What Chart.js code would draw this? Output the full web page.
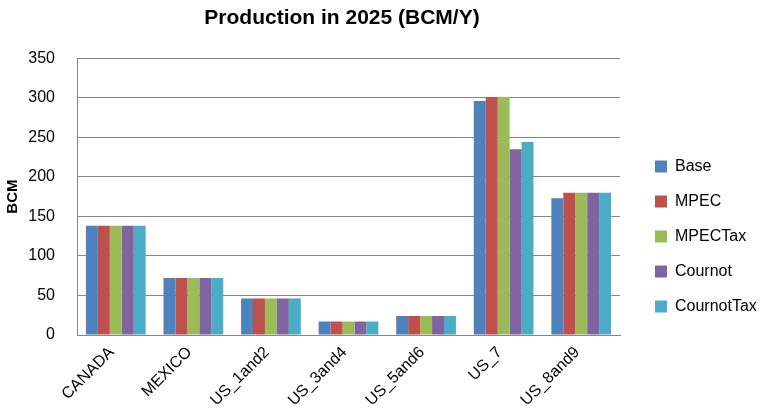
<!DOCTYPE html>
<html>
<head>
<meta charset="utf-8">
<script src="https://cdn.jsdelivr.net/npm/chart.js@4"></script>
<style>
  html, body { margin: 0; padding: 0; background: #fff; }
  #wrap { width: 762px; height: 419px; }
</style>
</head>
<body>
<div id="wrap"><canvas id="chart1" width="762" height="419"></canvas></div>
<script>
// Categories and series
const regions = ['CANADA', 'MEXICO', 'US_1and2', 'US_3and4', 'US_5and6', 'US_7', 'US_8and9'];
const base       = [138, 72, 46, 17, 24, 296, 173];
const mpec       = [138, 72, 46, 17, 24, 301, 180];
const mpecTax    = [138, 72, 46, 17, 24, 301, 180];
const cournot    = [138, 72, 46, 17, 24, 235, 180];
const cournotTax = [138, 72, 46, 17, 24, 244, 180];

const font = "'Liberation Sans', Arial, sans-serif";

// keep the legend column a fixed width and nudge title / legend like the original
const layoutTweaks = {
    id: 'layoutTweaks',
    beforeUpdate(chart) {
        const legend = chart.legend;
        if (legend && !legend._fixedFit) {
            const origFit = legend.fit;
            legend.fit = function() {
                origFit.call(this);
                this.width = 142;
            };
            legend._fixedFit = true;
        }
    },
    afterLayout(chart) {
        if (chart.titleBlock) {
            chart.titleBlock.right = chart.titleBlock.left + 684;
        }
        if (chart.legend) {
            chart.legend.left += 16;
            chart.legend.top += 27;
            chart.legend.bottom += 27;
        }
    }
};

const ctx1 = document.getElementById('chart1').getContext('2d');
const chart1 = new Chart(ctx1, {
    type: 'bar',
    data: {
        labels: regions,
        datasets: [
            { label: 'Base', data: base, backgroundColor: '#4f81bd' },
            { label: 'MPEC', data: mpec, backgroundColor: '#c0504d' },
            { label: 'MPECTax', data: mpecTax, backgroundColor: '#9bbb59' },
            { label: 'Cournot', data: cournot, backgroundColor: '#8064a2' },
            { label: 'CournotTax', data: cournotTax, backgroundColor: '#4bacc6' }
        ]
    },
    plugins: [layoutTweaks],
    options: {
        responsive: false,
        animation: false,
        layout: { padding: 0 },
        datasets: { bar: { categoryPercentage: 0.77, barPercentage: 1.0 } },
        plugins: {
            title: {
                display: true,
                text: 'Production in 2025 (BCM/Y)',
                color: '#000',
                font: { family: font, size: 21, weight: 'bold' },
                padding: { top: 6, bottom: 27 }
            },
            legend: {
                position: 'right',
                labels: {
                    color: '#000',
                    font: { family: font, size: 16 },
                    boxWidth: 12,
                    boxHeight: 12,
                    padding: 19
                }
            },
            tooltip: { enabled: false }
        },
        scales: {
            x: {
                afterFit: (scale) => { scale.height = 84; },
                grid: { display: false },
                border: { color: '#868686' },
                ticks: {
                    color: '#000',
                    font: { family: font, size: 16 },
                    minRotation: 45,
                    maxRotation: 45,
                    labelOffset: -4,
                    padding: 0
                }
            },
            y: {
                min: 0,
                max: 350,
                afterFit: (scale) => { scale.width = 77; },
                ticks: {
                    stepSize: 50,
                    color: '#000',
                    font: { family: font, size: 16 },
                    padding: 22
                },
                grid: { color: '#868686', drawTicks: false },
                border: { color: '#868686' },
                title: {
                    display: true,
                    text: 'BCM',
                    color: '#000',
                    font: { family: font, size: 15, weight: 'bold' }
                }
            }
        }
    }
});
</script>
</body>
</html>
